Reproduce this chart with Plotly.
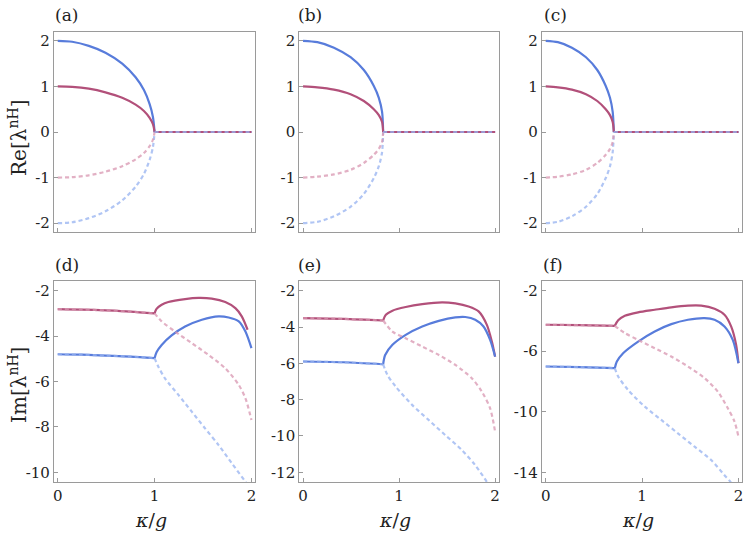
import plotly.graph_objects as go

# ---------------- data ----------------
# Re panels: kappa samples up to the exceptional point, then flat zero to 2
a_k = [0, 0.149, 0.321, 0.493, 0.666, 0.804, 0.89, 0.949, 0.983, 1.0]
a_blue = [2.0, 1.98, 1.89, 1.74, 1.50, 1.20, 0.92, 0.61, 0.33, 0.0]
a_red = [1.0, 0.99, 0.95, 0.87, 0.75, 0.60, 0.46, 0.31, 0.17, 0.0]
a_blue_neg = [-2.0, -1.98, -1.89, -1.74, -1.50, -1.20, -0.92, -0.61, -0.33, 0.0]
a_red_neg = [-1.0, -0.99, -0.95, -0.87, -0.75, -0.60, -0.46, -0.31, -0.17, 0.0]

b_k = [0, 0.149, 0.322, 0.495, 0.633, 0.737, 0.789, 0.823, 0.834]
b_blue = [2.0, 1.97, 1.85, 1.64, 1.36, 1.01, 0.75, 0.44, 0.0]
b_red = [1.0, 0.98, 0.93, 0.83, 0.68, 0.50, 0.37, 0.22, 0.0]
b_blue_neg = [-2.0, -1.97, -1.85, -1.64, -1.36, -1.01, -0.75, -0.44, 0.0]
b_red_neg = [-1.0, -0.98, -0.93, -0.83, -0.68, -0.50, -0.37, -0.22, 0.0]

c_k = [0, 0.126, 0.272, 0.418, 0.535, 0.623, 0.667, 0.695, 0.707]
c_blue = [2.0, 1.97, 1.85, 1.64, 1.36, 1.01, 0.75, 0.44, 0.0]
c_red = [1.0, 0.98, 0.93, 0.83, 0.68, 0.50, 0.37, 0.22, 0.0]
c_blue_neg = [-2.0, -1.97, -1.85, -1.64, -1.36, -1.01, -0.75, -0.44, 0.0]
c_red_neg = [-1.0, -0.98, -0.93, -0.83, -0.68, -0.50, -0.37, -0.22, 0.0]

flat_a_k = [1.0, 2.0]
flat_b_k = [0.834, 2.0]
flat_c_k = [0.707, 2.0]
flat_v = [0.0, 0.0]

# Im panel (d)
d_k_pre = [0, 0.25, 0.5, 0.75, 1.0]
d_red_pre = [-2.81, -2.83, -2.87, -2.92, -3.0]
d_blue_pre = [-4.80, -4.82, -4.86, -4.90, -4.97]
d_k_red_up = [1.0, 1.02, 1.073, 1.142, 1.315, 1.453, 1.59, 1.73, 1.834, 1.90, 1.96]
d_red_up = [-3.0, -2.80, -2.62, -2.50, -2.37, -2.32, -2.35, -2.50, -2.77, -3.13, -3.72]
d_k_blue_up = [1.0, 1.02, 1.073, 1.176, 1.315, 1.488, 1.661, 1.765, 1.869, 1.938, 2.0]
d_blue_up = [-4.97, -4.71, -4.39, -3.97, -3.58, -3.28, -3.13, -3.18, -3.35, -3.80, -4.53]
d_k_red_dn = [1.0, 1.073, 1.211, 1.384, 1.557, 1.73, 1.869, 1.938, 2.0]
d_red_dn = [-3.0, -3.35, -3.80, -4.31, -4.83, -5.42, -6.15, -6.74, -7.70]
d_k_blue_dn = [1.0, 1.038, 1.107, 1.246, 1.384, 1.522, 1.661, 1.799, 1.938, 2.0]
d_blue_dn = [-4.97, -5.34, -5.86, -6.59, -7.33, -8.07, -8.80, -9.61, -10.42, -10.85]

# Im panel (e)
e_k_pre = [0, 0.42, 0.834]
e_red_pre = [-3.51, -3.55, -3.64]
e_blue_pre = [-5.90, -5.94, -6.05]
e_k_red_up = [0.834, 0.862, 0.931, 1.069, 1.241, 1.448, 1.586, 1.724, 1.828, 1.914, 1.966, 2.0]
e_red_up = [-3.64, -3.33, -3.10, -2.90, -2.74, -2.64, -2.70, -2.87, -3.14, -3.88, -4.80, -5.63]
e_k_blue_up = [0.834, 0.855, 0.931, 1.069, 1.241, 1.414, 1.586, 1.69, 1.793, 1.879, 1.948, 2.0]
e_blue_up = [-6.05, -5.54, -4.98, -4.43, -3.97, -3.66, -3.47, -3.45, -3.60, -3.97, -4.71, -5.63]
e_k_red_dn = [0.834, 0.931, 1.069, 1.241, 1.414, 1.586, 1.759, 1.862, 1.948, 2.0]
e_red_dn = [-3.64, -4.25, -4.62, -5.08, -5.54, -6.09, -6.83, -7.56, -8.48, -9.77]
e_k_blue_dn = [0.834, 0.879, 0.966, 1.138, 1.31, 1.483, 1.655, 1.793, 1.914, 2.0]
e_blue_dn = [-6.05, -6.64, -7.29, -8.30, -9.13, -9.96, -10.78, -11.61, -12.53, -13.3]

# Im panel (f)
f_k_pre = [0, 0.36, 0.717]
f_red_pre = [-4.25, -4.28, -4.32]
f_blue_pre = [-7.01, -7.05, -7.12]
f_k_red_up = [0.717, 0.752, 0.821, 0.959, 1.131, 1.303, 1.476, 1.614, 1.752, 1.855, 1.924, 1.976, 2.0]
f_red_up = [-4.32, -3.96, -3.66, -3.43, -3.26, -3.10, -2.99, -2.99, -3.19, -3.59, -4.36, -5.58, -6.79]
f_k_blue_up = [0.717, 0.738, 0.803, 0.959, 1.131, 1.303, 1.476, 1.648, 1.752, 1.855, 1.941, 2.0]
f_blue_up = [-7.12, -6.68, -6.13, -5.36, -4.69, -4.21, -3.92, -3.81, -3.92, -4.36, -5.25, -6.79]
f_k_red_dn = [0.717, 0.821, 0.959, 1.131, 1.303, 1.476, 1.648, 1.786, 1.89, 1.959, 2.0]
f_red_dn = [-4.32, -4.80, -5.25, -5.80, -6.35, -7.01, -7.78, -8.67, -9.77, -10.65, -11.65]
f_k_blue_dn = [0.717, 0.752, 0.855, 1.028, 1.2, 1.372, 1.545, 1.717, 1.855, 1.917, 2.0]
f_blue_dn = [-7.12, -7.67, -8.56, -9.66, -10.54, -11.43, -12.31, -13.19, -14.19, -14.63, -15.5]

x_tickvals = [0, 1, 2]
x_ticktext = ["0", "1", "2"]
re_tickvals = [-2, -1, 0, 1, 2]
re_ticktext = ["-2", "-1", "0", "1", "2"]
d_tickvals = [-2, -4, -6, -8, -10]
d_ticktext = ["-2", "-4", "-6", "-8", "-10"]
e_tickvals = [-2, -4, -6, -8, -10, -12]
e_ticktext = ["-2", "-4", "-6", "-8", "-10", "-12"]
f_tickvals = [-2, -6, -10, -14]
f_ticktext = ["-2", "-6", "-10", "-14"]
panel_labels = ["(a)", "(b)", "(c)", "(d)", "(e)", "(f)"]

# ---------------- styling ----------------
W, H = 748, 536
BLUE = "rgb(88,124,219)"
RED = "rgb(178,80,122)"
BLUE_L = "rgba(150,178,240,0.75)"
RED_L = "rgba(216,150,176,0.75)"
LW = 2.2
DASH = "4px,3px"
FONT = "DejaVu Serif"

fig = go.Figure()


def px_dom_x(a, b):
    return [a / W, b / W]


def px_dom_y(top, bot):
    return [1 - bot / H, 1 - top / H]


col_dom = [px_dom_x(53, 255), px_dom_x(299, 499.3), px_dom_x(542.3, 743.3)]
row_dom = [px_dom_y(31.7, 232.3), px_dom_y(280.7, 482.3)]


def add(n, x, y, color, dash=False, shape="spline"):
    fig.add_trace(go.Scatter(
        x=x, y=y, mode="lines", xaxis=f"x{n}", yaxis=f"y{n}",
        line=dict(color=color, width=LW, dash=DASH if dash else "solid",
                  shape=shape, smoothing=0.8),
        showlegend=False, hoverinfo="skip"))


# Re panels
re_sets = [
    (1, a_k, a_blue, a_red, a_blue_neg, a_red_neg, flat_a_k),
    (2, b_k, b_blue, b_red, b_blue_neg, b_red_neg, flat_b_k),
    (3, c_k, c_blue, c_red, c_blue_neg, c_red_neg, flat_c_k),
]
for n, k, bl, rd, bln, rdn, fk in re_sets:
    add(n, k, bl, BLUE)
    add(n, k, rd, RED)
    add(n, fk, flat_v, BLUE, shape="linear")
    add(n, fk, flat_v, RED, shape="linear")
    add(n, k, bln, BLUE_L, dash=True)
    add(n, k, rdn, RED_L, dash=True)
    add(n, fk, flat_v, BLUE_L, dash=True, shape="linear")

# Im panels
im_sets = [
    (4, d_k_pre, d_red_pre, d_blue_pre, d_k_red_up, d_red_up, d_k_blue_up, d_blue_up,
     d_k_red_dn, d_red_dn, d_k_blue_dn, d_blue_dn),
    (5, e_k_pre, e_red_pre, e_blue_pre, e_k_red_up, e_red_up, e_k_blue_up, e_blue_up,
     e_k_red_dn, e_red_dn, e_k_blue_dn, e_blue_dn),
    (6, f_k_pre, f_red_pre, f_blue_pre, f_k_red_up, f_red_up, f_k_blue_up, f_blue_up,
     f_k_red_dn, f_red_dn, f_k_blue_dn, f_blue_dn),
]
for (n, kp, rp, bp, kru, ru, kbu, bu, krd, rdd, kbd, bd) in im_sets:
    add(n, kp, rp, RED)
    add(n, kp, bp, BLUE)
    add(n, kru, ru, RED)
    add(n, kbu, bu, BLUE)
    add(n, krd, rdd, RED_L, dash=True)
    add(n, kbd, bd, BLUE_L, dash=True)
    add(n, kp, rp, RED_L, dash=True)
    add(n, kp, bp, BLUE_L, dash=True)

yranges = [[-2.2, 2.2]] * 3 + [[-10.44, -1.56], [-12.55, -1.45], [-14.66, -1.34]]
yticks = [(re_tickvals, re_ticktext)] * 3 + [(d_tickvals, d_ticktext), (e_tickvals, e_ticktext),
                                               (f_tickvals, f_ticktext)]

axis_common = dict(showline=True, linecolor="#9a9a9a", linewidth=1, mirror=True,
                   ticks="inside", ticklen=4, tickcolor="#9a9a9a", showgrid=False,
                   zeroline=False, tickfont=dict(family=FONT, size=15, color="#222"))

layout = dict(width=W, height=H, margin=dict(l=0, r=0, t=0, b=0),
              paper_bgcolor="white", plot_bgcolor="white",
              font=dict(family=FONT, color="#222"))
for i in range(6):
    n = i + 1
    r, c = divmod(i, 3)
    sfx = "" if n == 1 else str(n)
    layout["xaxis" + sfx] = dict(axis_common, domain=col_dom[c], range=[-0.04, 2.04],
                                 anchor=f"y{n}", tickvals=x_tickvals, ticktext=x_ticktext,
                                 showticklabels=(r == 1))
    layout["yaxis" + sfx] = dict(axis_common, domain=row_dom[r], range=yranges[i],
                                 anchor=f"x{n}", tickvals=yticks[i][0], ticktext=yticks[i][1])
fig.update_layout(**layout)

ann = []
label_pos = [(52, 15), (296, 15), (542, 15), (52, 265), (296, 265), (541, 265)]
for lab, (x, y) in zip(panel_labels, label_pos):
    ann.append(dict(text=lab, x=x / W, y=1 - y / H, xref="paper", yref="paper",
                    xanchor="left", yanchor="middle", showarrow=False,
                    font=dict(family=FONT, size=17, color="#222")))
ann.append(dict(text="Re[λ<sup>nH</sup>]", x=17 / W, y=1 - 138 / H, xref="paper", yref="paper",
                textangle=-90, showarrow=False, xanchor="center", yanchor="middle",
                font=dict(family=FONT, size=20, color="#222")))
ann.append(dict(text="Im[λ<sup>nH</sup>]", x=17 / W, y=1 - 385 / H, xref="paper", yref="paper",
                textangle=-90, showarrow=False, xanchor="center", yanchor="middle",
                font=dict(family=FONT, size=20, color="#222")))
for c in range(3):
    xc = (col_dom[c][0] + col_dom[c][1]) / 2 - 4 / W
    ann.append(dict(text="<i>κ</i>/<i>g</i>", x=xc, y=1 - 520 / H, xref="paper", yref="paper",
                    showarrow=False, xanchor="center", yanchor="middle",
                    font=dict(family=FONT, size=19, color="#222")))
fig.update_layout(annotations=ann)

fig.write_html("out.html", post_script="document.body.style.margin='0';",
               config={"displayModeBar": False})
